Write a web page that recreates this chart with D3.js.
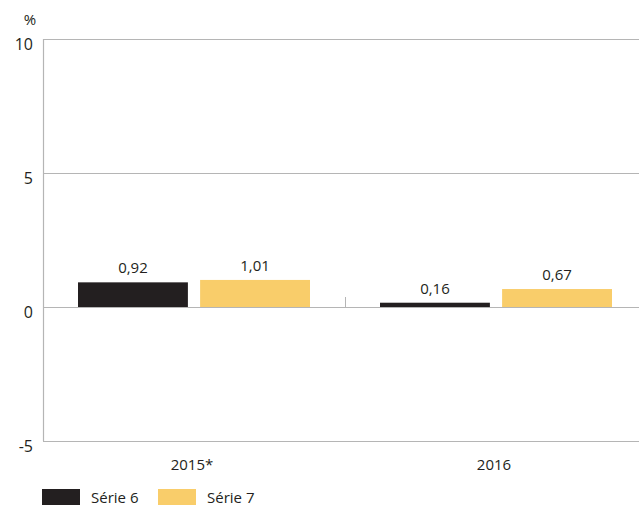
<!DOCTYPE html>
<html>
<head>
<meta charset="utf-8">
<script src="https://cdn.jsdelivr.net/npm/d3@7"></script>
<style>
  body { margin: 0; background: #fff; }
  text { font-family: "Open Sans", "Noto Sans", sans-serif; fill: #231f20; }
</style>
</head>
<body>
<script>
// data
var categories = ['2015*', '2016']
var seriesNames = ['Série 6', 'Série 7']
var serie6 = [0.92, 0.16]
var serie7 = [1.01, 0.67]
var yTicks = [-5, 0, 5, 10]
var colors = ['#231f20', '#f9cd6a']

var width = 639, height = 506
var margin = {top: 39, left: 43}
var plotRight = 647, plotBottom = 441

var svg = d3.select('body').append('svg')
    .attr('width', width)
    .attr('height', height)

var yScale = d3.scaleLinear()
    .domain([-5, 10])
    .range([plotBottom, margin.top])

var xScale = d3.scaleBand()
    .domain(categories)
    .range([margin.left, plotRight])

var xInner = d3.scaleBand()
    .domain(seriesNames)
    .range([-116, 116])
    .paddingInner(0.1)

var fmt = function (v) { return d3.format('.2f')(v).replace('.', ',') }

// grid lines
svg.append('g')
    .selectAll('line')
    .data(yTicks)
    .enter()
    .append('line')
    .attr('x1', margin.left)
    .attr('x2', width)
    .attr('y1', d => yScale(d) + 0.5)
    .attr('y2', d => yScale(d) + 0.5)
    .attr('stroke', '#b5b5b5')
    .attr('stroke-width', 1.2)

// left axis line
svg.append('line')
    .attr('x1', margin.left + 0.5)
    .attr('x2', margin.left + 0.5)
    .attr('y1', yScale(10))
    .attr('y2', yScale(-5))
    .attr('stroke', '#b5b5b5')
    .attr('stroke-width', 1.2)

// category divider tick
svg.append('line')
    .attr('x1', xScale('2016') + 0.5)
    .attr('x2', xScale('2016') + 0.5)
    .attr('y1', yScale(0) - 10)
    .attr('y2', yScale(0))
    .attr('stroke', '#b5b5b5')
    .attr('stroke-width', 1)

// y tick labels
svg.append('g')
    .selectAll('text')
    .data(yTicks)
    .enter()
    .append('text')
    .attr('x', 33)
    .attr('y', d => yScale(d) + 11)
    .attr('font-size', 16)
    .attr('text-anchor', 'end')
    .text(d => d)

svg.append('text')
    .attr('x', 30)
    .attr('y', 25)
    .attr('font-size', 15)
    .attr('text-anchor', 'middle')
    .text('%')

// bars
var allSeries = [serie6, serie7]
allSeries.forEach(function (vals, si) {
    var g = svg.append('g')
    var bw = xInner.bandwidth()
    g.selectAll('rect')
        .data(vals)
        .enter()
        .append('rect')
        .attr('x', (d, i) => xScale(categories[i]) + xScale.bandwidth() / 2 + xInner(seriesNames[si]))
        .attr('y', d => yScale(d))
        .attr('width', bw)
        .attr('height', d => yScale(0) - yScale(d))
        .attr('fill', colors[si])

    g.selectAll('text')
        .data(vals)
        .enter()
        .append('text')
        .attr('x', (d, i) => xScale(categories[i]) + xScale.bandwidth() / 2 + xInner(seriesNames[si]) + bw / 2)
        .attr('y', d => yScale(d) - 9)
        .attr('font-size', 15)
        .attr('text-anchor', 'middle')
        .text(d => fmt(d))
})

// x labels
svg.append('g')
    .selectAll('text')
    .data(categories)
    .enter()
    .append('text')
    .attr('x', d => xScale(d) + xScale.bandwidth() / 2 - 2)
    .attr('y', 470)
    .attr('font-size', 15)
    .attr('text-anchor', 'middle')
    .text(d => d)

// legend
var legend = svg.append('g')
    .selectAll('g')
    .data(seriesNames)
    .enter()
    .append('g')
    .attr('transform', (d, i) => 'translate(' + (42 + i * 116) + ',489)')

legend.append('rect')
    .attr('width', 38)
    .attr('height', 16)
    .attr('fill', (d, i) => colors[i])

legend.append('text')
    .attr('x', 49)
    .attr('y', 14)
    .attr('font-size', 15)
    .text(d => d)
</script>
</body>
</html>
